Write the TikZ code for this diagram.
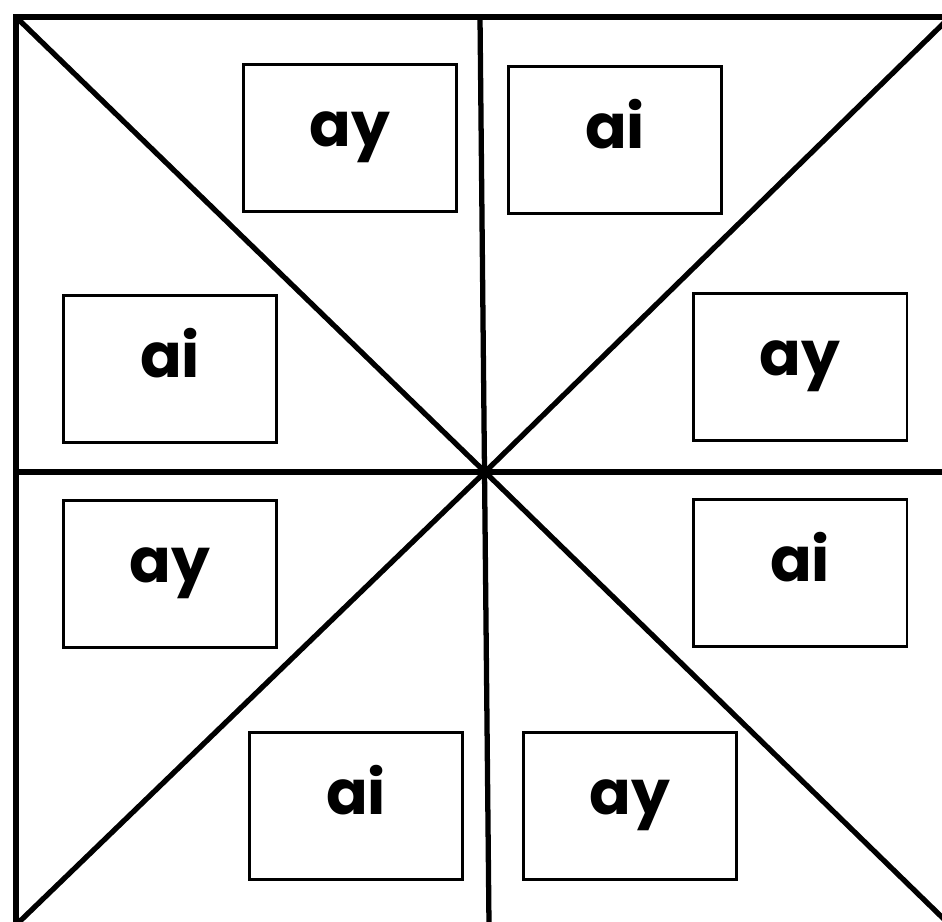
\documentclass[tikz,border=0pt]{standalone}
\usepackage{fontspec}
\setmainfont{Poppins}
\usetikzlibrary{positioning}
\tikzset{
  rule/.style={line width=3pt,line cap=round,draw=black},
  card/.style={draw=black,line width=1.7pt,fill=white,inner sep=0pt,
    minimum width=4.28cm,minimum height=2.94cm,
    text height=1.63cm,text depth=1.31cm,
    font=\fontsize{35}{35}\selectfont\bfseries},
}
\begin{document}
\begin{tikzpicture}[x=0.02cm,y=-0.02cm]
  \useasboundingbox (0,0) rectangle (942,921);
  % frame and sectors
  \coordinate (tl) at (16,17);
  \coordinate (tr) at (950,17);
  \coordinate (bl) at (16,925);
  \coordinate (br) at (950,925);
  \coordinate (mid) at (485,472);
  \coordinate (top) at (480,17);
  \coordinate (bot) at (489,925);
  \coordinate (west) at (16,472);
  \coordinate (east) at (950,472);
  \draw[rule,line cap=butt] (tl) rectangle (br);
  \draw[rule] (top) -- (bot);
  \draw[rule] (west) -- (east);
  \draw[rule] (tl) -- (mid) -- (br);
  \draw[rule] (tr) -- (mid) -- (bl);
  % cards
  \node[card] (ay1) at (350,138) {ay};
  \node[card] (ai1) at (615,140) {ai};
  \node[card] (ai2) at (170,369) {ai};
  \node[card] (ay2) at (800,367) {ay};
  \node[card] (ay3) at (170,574) {ay};
  \node[card] (ai3) at (800,573) {ai};
  \node[card] (ai4) at (356,806) {ai};
  \node[card] (ay4) at (630,806) {ay};
\end{tikzpicture}
\end{document}
